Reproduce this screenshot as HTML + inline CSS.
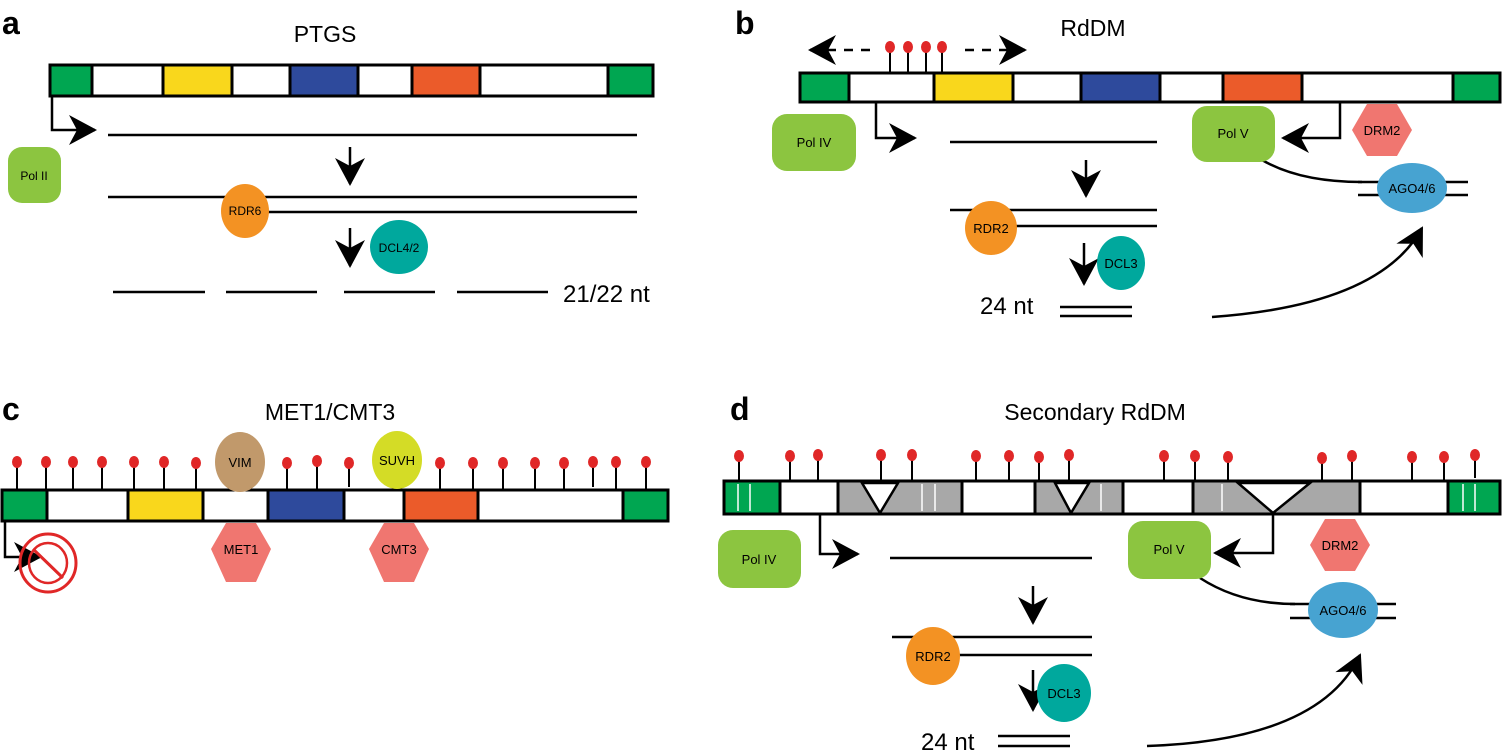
<!DOCTYPE html>
<html><head><meta charset="utf-8"><style>
html,body{margin:0;padding:0;background:#fff;}
svg{display:block;font-family:"Liberation Sans",Arial,sans-serif;}
</style></head><body>
<svg width="1503" height="751" viewBox="0 0 1503 751" xmlns="http://www.w3.org/2000/svg">
<defs>
<marker id="ah" viewBox="0 0 30 30" refX="28" refY="15" markerWidth="30" markerHeight="30" markerUnits="userSpaceOnUse" orient="auto">
<path d="M30,15 L2,0 L10,15 L2,30 Z" fill="#000"/></marker>
</defs>
<g fill="#000">
<text x="2" y="34" font-size="32" font-weight="bold">a</text>
<text x="735" y="34" font-size="32" font-weight="bold">b</text>
<text x="2" y="420" font-size="32" font-weight="bold">c</text>
<text x="730" y="420" font-size="32" font-weight="bold">d</text>
<text x="325" y="42" font-size="23" text-anchor="middle">PTGS</text>
<text x="1093" y="36" font-size="23" text-anchor="middle">RdDM</text>
<text x="330" y="420" font-size="23" text-anchor="middle">MET1/CMT3</text>
<text x="1095" y="420" font-size="23" text-anchor="middle">Secondary RdDM</text>
</g>

<!-- Panel a -->
<g stroke="#000" stroke-width="3">
<rect x="50" y="65" width="603" height="31" fill="#fff"/>
<rect x="50" y="65" width="42" height="31" fill="#00a651"/>
<rect x="163" y="65" width="69" height="31" fill="#f9d71c"/>
<rect x="290" y="65" width="68" height="31" fill="#2e4a9c"/>
<rect x="412" y="65" width="68" height="31" fill="#eb5b2a"/>
<rect x="608" y="65" width="45" height="31" fill="#00a651"/>
</g>
<g stroke="#000" stroke-width="2.5" fill="none">
<path d="M52,96 V130 H95" marker-end="url(#ah)"/>
<line x1="108" y1="135" x2="637" y2="135"/>
<line x1="350" y1="147" x2="350" y2="184" marker-end="url(#ah)"/>
<line x1="108" y1="197" x2="637" y2="197"/>
<line x1="250" y1="212" x2="637" y2="212"/>
<line x1="350" y1="228" x2="350" y2="266" marker-end="url(#ah)"/>
<line x1="113" y1="292" x2="205" y2="292"/>
<line x1="226" y1="292" x2="317" y2="292"/>
<line x1="344" y1="292" x2="435" y2="292"/>
<line x1="457" y1="292" x2="548" y2="292"/>
</g>
<rect x="8" y="147" width="53" height="56" rx="14" fill="#8cc540"/>
<text x="34" y="180" font-size="12" text-anchor="middle">Pol II</text>
<ellipse cx="245" cy="211" rx="24" ry="27" fill="#f39223"/>
<text x="245" y="215" font-size="12" text-anchor="middle">RDR6</text>
<ellipse cx="399" cy="247" rx="29" ry="27" fill="#00a89d"/>
<text x="399" y="252" font-size="12" text-anchor="middle">DCL4/2</text>
<text x="563" y="302" font-size="24">21/22 nt</text>

<!-- Panel b -->
<g stroke="#000" stroke-width="3">
<rect x="800" y="73" width="700" height="29" fill="#fff"/>
<rect x="800" y="73" width="49" height="29" fill="#00a651"/>
<rect x="934" y="73" width="79" height="29" fill="#f9d71c"/>
<rect x="1081" y="73" width="79" height="29" fill="#2e4a9c"/>
<rect x="1223" y="73" width="79" height="29" fill="#eb5b2a"/>
<rect x="1453" y="73" width="47" height="29" fill="#00a651"/>
</g>
<g stroke="#000" stroke-width="2">
<line x1="890" y1="47" x2="890" y2="73"/><line x1="908" y1="47" x2="908" y2="73"/>
<line x1="926" y1="47" x2="926" y2="73"/><line x1="942" y1="47" x2="942" y2="73"/>
</g>
<g fill="#e02727"><ellipse cx="890" cy="47" rx="5" ry="6"/><ellipse cx="908" cy="47" rx="5" ry="6"/><ellipse cx="926" cy="47" rx="5" ry="6"/><ellipse cx="942" cy="47" rx="5" ry="6"/></g>
<g stroke="#000" stroke-width="2.5" fill="none">
<line x1="870" y1="50" x2="810" y2="50" stroke-dasharray="9,8" marker-end="url(#ah)"/>
<line x1="965" y1="50" x2="1025" y2="50" stroke-dasharray="9,8" marker-end="url(#ah)"/>
<path d="M876,102 V138 H915" marker-end="url(#ah)"/>
<line x1="950" y1="142" x2="1157" y2="142"/>
<path d="M1340,102 V138 H1283" marker-end="url(#ah)"/>
<path d="M1262,160 Q1300,182 1362,182"/>
<line x1="1358" y1="182" x2="1468" y2="182"/>
<line x1="1358" y1="195" x2="1468" y2="195"/>
<line x1="1086" y1="160" x2="1086" y2="196" marker-end="url(#ah)"/>
<line x1="950" y1="210" x2="1157" y2="210"/>
<line x1="1000" y1="226" x2="1157" y2="226"/>
<line x1="1084" y1="243" x2="1084" y2="284" marker-end="url(#ah)"/>
<line x1="1060" y1="307" x2="1132" y2="307"/>
<line x1="1060" y1="316" x2="1132" y2="316"/>
<path d="M1212,317 Q1380,305 1422,228" marker-end="url(#ah)"/>
</g>
<rect x="772" y="114" width="84" height="57" rx="15" fill="#8cc540"/>
<text x="814" y="147" font-size="13" text-anchor="middle">Pol IV</text>
<rect x="1192" y="106" width="83" height="56" rx="15" fill="#8cc540"/>
<text x="1233" y="138" font-size="13" text-anchor="middle">Pol V</text>
<polygon points="1352,130 1367,104 1397,104 1412,130 1397,156 1367,156" fill="#f07670"/>
<text x="1382" y="135" font-size="13" text-anchor="middle">DRM2</text>
<ellipse cx="1412" cy="188" rx="35" ry="25" fill="#47a3d1"/>
<text x="1412" y="193" font-size="13" text-anchor="middle">AGO4/6</text>
<ellipse cx="991" cy="228" rx="26" ry="27" fill="#f39223"/>
<text x="991" y="233" font-size="13" text-anchor="middle">RDR2</text>
<ellipse cx="1121" cy="263" rx="24" ry="27" fill="#00a89d"/>
<text x="1121" y="268" font-size="13" text-anchor="middle">DCL3</text>
<text x="980" y="314" font-size="24">24 nt</text>

<!-- Panel c -->
<g stroke="#000" stroke-width="2">
<line x1="17" y1="462" x2="17" y2="490"/><line x1="46" y1="462" x2="46" y2="490"/><line x1="73" y1="462" x2="73" y2="490"/><line x1="102" y1="462" x2="102" y2="490"/><line x1="134" y1="462" x2="134" y2="490"/><line x1="164" y1="462" x2="164" y2="490"/><line x1="196" y1="462" x2="196" y2="490"/><line x1="287" y1="462" x2="287" y2="490"/><line x1="317" y1="462" x2="317" y2="490"/><line x1="349" y1="462" x2="349" y2="487"/><line x1="440" y1="462" x2="440" y2="490"/><line x1="473" y1="462" x2="473" y2="490"/><line x1="503" y1="462" x2="503" y2="490"/><line x1="535" y1="462" x2="535" y2="490"/><line x1="564" y1="462" x2="564" y2="490"/><line x1="593" y1="462" x2="593" y2="487"/><line x1="616" y1="462" x2="616" y2="490"/><line x1="646" y1="462" x2="646" y2="490"/>
</g>
<g fill="#e02727">
<ellipse cx="17" cy="462" rx="5" ry="6"/><ellipse cx="46" cy="462" rx="5" ry="6"/><ellipse cx="73" cy="462" rx="5" ry="6"/><ellipse cx="102" cy="462" rx="5" ry="6"/><ellipse cx="134" cy="462" rx="5" ry="6"/><ellipse cx="164" cy="462" rx="5" ry="6"/><ellipse cx="196" cy="463" rx="5" ry="6"/><ellipse cx="287" cy="463" rx="5" ry="6"/><ellipse cx="317" cy="461" rx="5" ry="6"/><ellipse cx="349" cy="463" rx="5" ry="6"/><ellipse cx="440" cy="463" rx="5" ry="6"/><ellipse cx="473" cy="463" rx="5" ry="6"/><ellipse cx="503" cy="463" rx="5" ry="6"/><ellipse cx="535" cy="463" rx="5" ry="6"/><ellipse cx="564" cy="463" rx="5" ry="6"/><ellipse cx="593" cy="462" rx="5" ry="6"/><ellipse cx="616" cy="462" rx="5" ry="6"/><ellipse cx="646" cy="462" rx="5" ry="6"/>
</g>
<g stroke="#000" stroke-width="3">
<rect x="2" y="490" width="666" height="31" fill="#fff"/>
<rect x="2" y="490" width="45" height="31" fill="#00a651"/>
<rect x="128" y="490" width="75" height="31" fill="#f9d71c"/>
<rect x="268" y="490" width="76" height="31" fill="#2e4a9c"/>
<rect x="404" y="490" width="74" height="31" fill="#eb5b2a"/>
<rect x="623" y="490" width="45" height="31" fill="#00a651"/>
</g>
<ellipse cx="240" cy="462" rx="25" ry="30" fill="#c1996b"/>
<text x="240" y="467" font-size="13" text-anchor="middle">VIM</text>
<ellipse cx="397" cy="460" rx="25" ry="29" fill="#d4dc26"/>
<text x="397" y="465" font-size="13" text-anchor="middle">SUVH</text>
<polygon points="211,549 226,523 256,523 271,549 256,582 226,582" fill="#f07670"/>
<text x="241" y="554" font-size="13" text-anchor="middle">MET1</text>
<polygon points="369,549 384,523 414,523 429,549 414,582 384,582" fill="#f07670"/>
<text x="399" y="554" font-size="13" text-anchor="middle">CMT3</text>
<path d="M5,521 V557 H40" stroke="#000" stroke-width="2.5" fill="none" marker-end="url(#ah)"/>
<ellipse cx="48" cy="563" rx="28" ry="29" fill="none" stroke="#e02727" stroke-width="3"/>
<ellipse cx="48" cy="563" rx="19" ry="20" fill="none" stroke="#e02727" stroke-width="2.5"/>
<line x1="33" y1="549" x2="63" y2="578" stroke="#e02727" stroke-width="3"/>

<!-- Panel d -->
<g stroke="#000" stroke-width="2">
<line x1="739" y1="456" x2="739" y2="481"/><line x1="790" y1="456" x2="790" y2="481"/><line x1="818" y1="456" x2="818" y2="481"/><line x1="881" y1="456" x2="881" y2="481"/><line x1="912" y1="456" x2="912" y2="481"/><line x1="976" y1="456" x2="976" y2="481"/><line x1="1009" y1="456" x2="1009" y2="481"/><line x1="1039" y1="456" x2="1039" y2="481"/><line x1="1069" y1="456" x2="1069" y2="481"/><line x1="1164" y1="456" x2="1164" y2="481"/><line x1="1195" y1="456" x2="1195" y2="481"/><line x1="1228" y1="456" x2="1228" y2="481"/><line x1="1322" y1="456" x2="1322" y2="481"/><line x1="1352" y1="456" x2="1352" y2="481"/><line x1="1412" y1="456" x2="1412" y2="481"/><line x1="1444" y1="456" x2="1444" y2="481"/><line x1="1475" y1="456" x2="1475" y2="478"/>
</g>
<g fill="#e02727">
<ellipse cx="739" cy="456" rx="5" ry="6"/><ellipse cx="790" cy="456" rx="5" ry="6"/><ellipse cx="818" cy="455" rx="5" ry="6"/><ellipse cx="881" cy="455" rx="5" ry="6"/><ellipse cx="912" cy="455" rx="5" ry="6"/><ellipse cx="976" cy="456" rx="5" ry="6"/><ellipse cx="1009" cy="456" rx="5" ry="6"/><ellipse cx="1039" cy="457" rx="5" ry="6"/><ellipse cx="1069" cy="455" rx="5" ry="6"/><ellipse cx="1164" cy="456" rx="5" ry="6"/><ellipse cx="1195" cy="456" rx="5" ry="6"/><ellipse cx="1228" cy="457" rx="5" ry="6"/><ellipse cx="1322" cy="458" rx="5" ry="6"/><ellipse cx="1352" cy="456" rx="5" ry="6"/><ellipse cx="1412" cy="457" rx="5" ry="6"/><ellipse cx="1444" cy="457" rx="5" ry="6"/><ellipse cx="1475" cy="455" rx="5" ry="6"/>
</g>
<g stroke="#000" stroke-width="3">
<rect x="724" y="481" width="776" height="33" fill="#fff"/>
<rect x="724" y="481" width="56" height="33" fill="#00a651"/>
<rect x="838" y="481" width="124" height="33" fill="#a8a8a8"/>
<rect x="1035" y="481" width="88" height="33" fill="#a8a8a8"/>
<rect x="1193" y="481" width="167" height="33" fill="#a8a8a8"/>
<rect x="1448" y="481" width="52" height="33" fill="#00a651"/>
</g>
<g stroke="#fff" stroke-width="1.5">
<line x1="738" y1="484" x2="738" y2="511"/><line x1="750" y1="484" x2="750" y2="511"/>
<line x1="922" y1="484" x2="922" y2="511"/><line x1="935" y1="484" x2="935" y2="511"/>
<line x1="1101" y1="484" x2="1101" y2="511"/><line x1="1222" y1="484" x2="1222" y2="511"/>
<line x1="1463" y1="484" x2="1463" y2="511"/><line x1="1475" y1="484" x2="1475" y2="511"/>
</g>
<g fill="#fff" stroke="#000" stroke-width="2.5">
<polygon points="862,483 898,483 880,513"/>
<polygon points="1055,483 1089,483 1071,513"/>
<polygon points="1238,483 1310,483 1273,513"/>
</g>
<g stroke="#000" stroke-width="2.5" fill="none">
<path d="M820,514 V554 H858" marker-end="url(#ah)"/>
<line x1="890" y1="558" x2="1092" y2="558"/>
<path d="M1273,514 V553 H1215" marker-end="url(#ah)"/>
<path d="M1200,578 Q1240,604 1295,604"/>
<line x1="1290" y1="604" x2="1396" y2="604"/>
<line x1="1290" y1="618" x2="1396" y2="618"/>
<line x1="1033" y1="586" x2="1033" y2="623" marker-end="url(#ah)"/>
<line x1="892" y1="637" x2="1092" y2="637"/>
<line x1="950" y1="655" x2="1092" y2="655"/>
<line x1="1033" y1="670" x2="1033" y2="710" marker-end="url(#ah)"/>
<line x1="998" y1="736" x2="1070" y2="736"/>
<line x1="998" y1="746" x2="1070" y2="746"/>
<path d="M1147,746 Q1320,740 1360,655" marker-end="url(#ah)"/>
</g>
<rect x="718" y="530" width="83" height="58" rx="15" fill="#8cc540"/>
<text x="759" y="564" font-size="13" text-anchor="middle">Pol IV</text>
<rect x="1128" y="521" width="83" height="58" rx="15" fill="#8cc540"/>
<text x="1169" y="554" font-size="13" text-anchor="middle">Pol V</text>
<polygon points="1310,545 1325,519 1355,519 1370,545 1355,571 1325,571" fill="#f07670"/>
<text x="1340" y="550" font-size="13" text-anchor="middle">DRM2</text>
<ellipse cx="1343" cy="610" rx="35" ry="28" fill="#47a3d1"/>
<text x="1343" y="615" font-size="13" text-anchor="middle">AGO4/6</text>
<ellipse cx="933" cy="656" rx="27" ry="29" fill="#f39223"/>
<text x="933" y="661" font-size="13" text-anchor="middle">RDR2</text>
<ellipse cx="1064" cy="693" rx="27" ry="29" fill="#00a89d"/>
<text x="1064" y="698" font-size="13" text-anchor="middle">DCL3</text>
<text x="921" y="750" font-size="24">24 nt</text>
</svg>
</body></html>
